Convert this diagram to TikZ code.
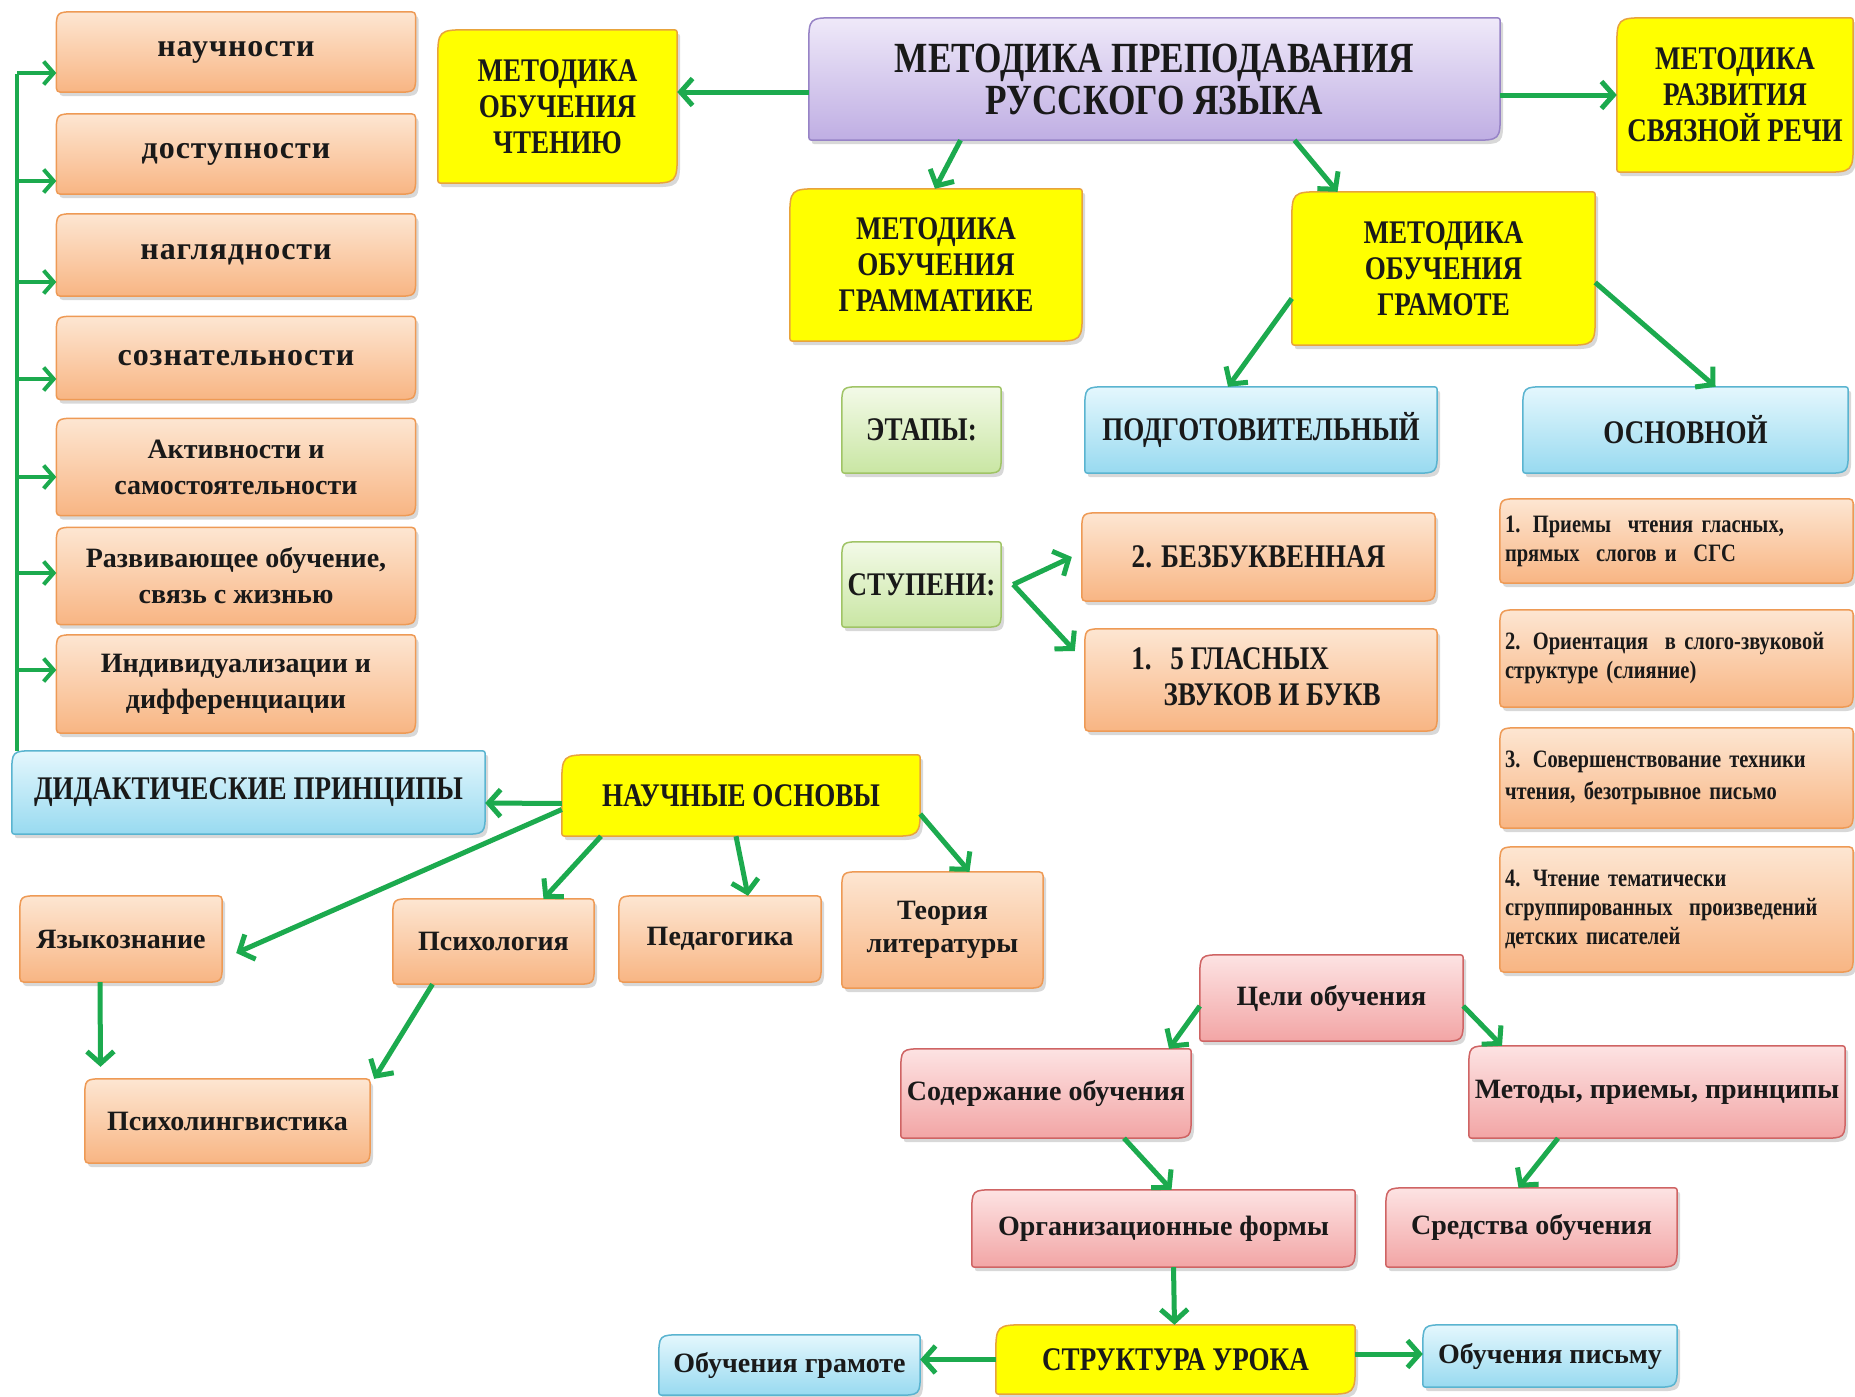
\documentclass[tikz,border=0pt]{standalone}
\usepackage{fontspec}
\setmainfont{Liberation Serif}
\newfontfamily\capf{Liberation Serif}[FakeStretch=0.82]
\newfontfamily\spf{Liberation Serif}[LetterSpace=3]
\usetikzlibrary{arrows.meta,shadows}
\pgfdeclarelayer{bg}
\pgfdeclarelayer{background}
\pgfsetlayers{bg,background,main}
\definecolor{or1}{HTML}{FDE6D2}
\definecolor{or2}{HTML}{F8B583}
\definecolor{orbd}{HTML}{EE9A55}
\definecolor{ye}{HTML}{FFFF00}
\definecolor{yebd}{HTML}{E8A33C}
\definecolor{pu1}{HTML}{EFE9F9}
\definecolor{pu2}{HTML}{BFAEE3}
\definecolor{pubd}{HTML}{9783C6}
\definecolor{bl1}{HTML}{E4F7FD}
\definecolor{bl2}{HTML}{98DAF0}
\definecolor{blbd}{HTML}{5AB4D0}
\definecolor{gr1}{HTML}{F3FAE8}
\definecolor{gr2}{HTML}{C9E6A3}
\definecolor{grbd}{HTML}{A0C466}
\definecolor{pk1}{HTML}{FDE3E3}
\definecolor{pk2}{HTML}{F2A5A5}
\definecolor{pkbd}{HTML}{CF6464}
\definecolor{ag}{HTML}{1CAA4E}
% #1 node, #2 style, #3 big radius (top left, bottom right), #4 small radius
\newcommand\shp[4]{%
  \path[#2,line width=1.5pt,drop shadow={opacity=0.3,shadow xshift=3pt,shadow yshift=-4pt}]
  ([yshift=#4]#1.south west) -- ([yshift=-#3]#1.north west) .. controls (#1.north west) .. ([xshift=#3]#1.north west)
  -- ([xshift=-#4]#1.north east) .. controls (#1.north east) .. ([yshift=-#4]#1.north east)
  -- ([yshift=#3]#1.south east) .. controls (#1.south east) .. ([xshift=-#3]#1.south east)
  -- ([xshift=#4]#1.south west) .. controls (#1.south west) .. cycle;}
\tikzset{
  forange/.style={top color=or1,bottom color=or2,draw=orbd},
  fyellow/.style={fill=ye,draw=yebd},
  fpurple/.style={top color=pu1,bottom color=pu2,draw=pubd},
  fblue/.style={top color=bl1,bottom color=bl2,draw=blbd},
  fgreen/.style={top color=gr1,bottom color=gr2,draw=grbd},
  fpink/.style={top color=pk1,bottom color=pk2,draw=pkbd},
  bx/.style={inner sep=3pt,align=center,text=black!90},
  cp/.style={font=\capf\bfseries\fontsize{33}{36}\selectfont},
  lw/.style={font=\bfseries\fontsize{28}{36}\selectfont},
  lsp/.style={font=\spf\bfseries\fontsize{32}{36}\selectfont},
  sm/.style={font=\capf\bfseries\fontsize{25}{29}\selectfont,align=left,inner xsep=5pt},
  arr/.style={draw=ag,line width=5pt,-{Straight Barb[length=12pt,width=27pt]}},
  arrl/.style={draw=ag,line width=4pt,-{Straight Barb[length=10pt,width=23pt]}},
}
\begin{document}
\begin{tikzpicture}[x=1pt,y=-1pt]
\useasboundingbox (0,0) rectangle (1855,1397);
\begin{pgfonlayer}{bg}
\fill[white] (0,0) rectangle (1855,1397);
\end{pgfonlayer}
% left column
\node[bx,lsp,minimum width=359pt,minimum height=80pt] (nauch) at (236,52) {научности};
\node[bx,lsp,minimum width=359pt,minimum height=80pt] (dost) at (236,154) {доступности};
\node[bx,lsp,minimum width=359pt,minimum height=82pt] (nagl) at (236,255) {наглядности};
\node[bx,lsp,minimum width=359pt,minimum height=83pt] (sozn) at (236,358) {сознательности};
\node[bx,lw,minimum width=359pt,minimum height=97pt] (aktiv) at (236,467) {Активности и\\самостоятельности};
\node[bx,lw,minimum width=359pt,minimum height=97pt] (razv) at (236,576) {Развивающее обучение,\\связь с жизнью};
\node[bx,lw,minimum width=359pt,minimum height=98pt] (indiv) at (236,684) {Индивидуализации и\\дифференциации};
% top
\node[bx,cp,minimum width=239pt,minimum height=153pt] (chten) at (557.5,106.5) {МЕТОДИКА\\ОБУЧЕНИЯ\\ЧТЕНИЮ};
\node[bx,font=\capf\bfseries\fontsize{43}{42}\selectfont,minimum width=691pt,minimum height=122pt] (main) at (1154.5,79) {МЕТОДИКА ПРЕПОДАВАНИЯ\\РУССКОГО ЯЗЫКА};
\node[bx,cp,minimum width=236pt,minimum height=154pt] (svyaz) at (1735,95) {МЕТОДИКА\\РАЗВИТИЯ\\СВЯЗНОЙ РЕЧИ};
\node[bx,cp,minimum width=292pt,minimum height=152pt] (gramm) at (936,265) {МЕТОДИКА\\ОБУЧЕНИЯ\\ГРАММАТИКЕ};
\node[bx,cp,minimum width=303pt,minimum height=153pt] (gramota) at (1443.5,268.5) {МЕТОДИКА\\ОБУЧЕНИЯ\\ГРАМОТЕ};
% stages
\node[bx,cp,minimum width=159pt,minimum height=86pt] (etapy) at (921.5,430) {ЭТАПЫ:};
\node[bx,cp,minimum width=352pt,minimum height=86pt] (podg) at (1261,430) {ПОДГОТОВИТЕЛЬНЫЙ};
\node[bx,cp,minimum width=325pt,minimum height=86pt] (osn) at (1685.5,430) {ОСНОВНОЙ};
\node[bx,cp,minimum width=159pt,minimum height=85pt] (stup) at (921.5,584.5) {СТУПЕНИ:};
\node[bx,cp,minimum width=353pt,minimum height=88pt] (bezb) at (1258.5,557) {2. БЕЗБУКВЕННАЯ};
\node[bx,cp,minimum width=352pt,minimum height=102pt] (glas) at (1261,680) {\begin{tabular}{@{}l@{\hspace{12pt}}l@{}}1.&\ 5 ГЛАСНЫХ\\&ЗВУКОВ И БУКВ\end{tabular}\hspace{10pt}};
% right column
\node[bx,sm,text width=343pt,minimum height=84pt] (r1) at (1676.5,541) {1. Приемы\ \ чтения гласных,\\прямых\ \ слогов и\ \ СГС};
\node[bx,sm,text width=343pt,minimum height=97pt] (r2) at (1676.5,658.5) {2. Ориентация\ \ в слого-звуковой\\структуре (слияние)};
\node[bx,sm,text width=343pt,minimum height=100pt] (r3) at (1676.5,778) {3. Совершенствование техники\\[3pt]чтения, безотрывное письмо};
\node[bx,sm,text width=343pt,minimum height=125pt] (r4) at (1676.5,909.5) {4. Чтение тематически\\сгруппированных\ \ произведений\\детских писателей};
% scientific foundations
\node[bx,cp,minimum width=473pt,minimum height=83pt] (did) at (248.5,792.5) {ДИДАКТИЧЕСКИЕ ПРИНЦИПЫ};
\node[bx,cp,minimum width=358pt,minimum height=81pt] (nos) at (741,795.5) {НАУЧНЫЕ ОСНОВЫ};
\node[bx,lw,minimum width=202pt,minimum height=86pt] (yaz) at (121,939) {Языкознание};
\node[bx,lw,minimum width=201pt,minimum height=85pt] (psih) at (493.5,941.5) {Психология};
\node[bx,lw,minimum width=202pt,minimum height=86pt] (ped) at (720,939) {Педагогика};
\node[bx,lw,font=\bfseries\fontsize{28}{33}\selectfont,minimum width=201pt,minimum height=116pt] (teor) at (942.5,930) {Теория\\литературы};
\node[bx,lw,minimum width=285pt,minimum height=84pt] (psling) at (227.5,1121) {Психолингвистика};
% lesson
\node[bx,lw,minimum width=263pt,minimum height=86pt] (celi) at (1331.5,998) {Цели обучения};
\node[bx,lw,minimum width=290pt,minimum height=89pt] (sod) at (1046,1093.5) {Содержание обучения};
\node[bx,lw,minimum width=376pt,minimum height=92pt] (met) at (1657,1092) {Методы, приемы, принципы};
\node[bx,lw,minimum width=383pt,minimum height=77pt] (org) at (1163.5,1228.5) {Организационные формы};
\node[bx,lw,minimum width=291pt,minimum height=79pt] (sred) at (1531.5,1227.5) {Средства обучения};
\node[bx,cp,minimum width=359pt,minimum height=69pt] (strukt) at (1175.5,1359.5) {СТРУКТУРА УРОКА};
\node[bx,lw,minimum width=261pt,minimum height=60pt] (obgr) at (789.5,1365) {Обучения грамоте};
\node[bx,lw,minimum width=254pt,minimum height=62pt] (obpis) at (1550,1356) {Обучения письму};
% shapes
\begin{pgfonlayer}{background}
\foreach \n in {nauch,dost,nagl,sozn,aktiv,razv,indiv,bezb,glas,r1,r2,r3,r4,yaz,psih,ped,teor,psling} {\shp{\n}{forange}{20pt}{9pt}}
\foreach \n in {chten,svyaz,gramm,gramota,nos,strukt} {\shp{\n}{fyellow}{32pt}{6pt}}
\shp{main}{fpurple}{28pt}{6pt}
\foreach \n in {podg,osn,did,obgr,obpis} {\shp{\n}{fblue}{24pt}{6pt}}
\foreach \n in {etapy,stup} {\shp{\n}{fgreen}{20pt}{6pt}}
\foreach \n in {celi,sod,met,org,sred} {\shp{\n}{fpink}{24pt}{6pt}}
\end{pgfonlayer}
% left bracket
\coordinate (ltop) at (17,74);
\coordinate (a1) at ([yshift=-21pt]nauch.west);
\coordinate (a2) at ([yshift=-27pt]dost.west);
\coordinate (a3) at ([yshift=-27pt]nagl.west);
\coordinate (a4) at ([yshift=-21pt]sozn.west);
\coordinate (a5) at ([yshift=-10pt]aktiv.west);
\coordinate (a6) at ([yshift=3pt]razv.west);
\coordinate (a7) at ([yshift=14pt]indiv.west);
\draw[ag,line width=4pt] (ltop) -- (ltop |- did.north);
\foreach \a in {a1,a2,a3,a4,a5,a6,a7} {\draw[arrl] (ltop |- \a) -- (\a);}
% connectors
\draw[arr] ([yshift=-13pt]main.west) -- ([yshift=14.5pt]chten.east);
\draw[arr] ([yshift=-16pt]main.east) -- (svyaz.west);
\draw[arr] ([xshift=-194pt]main.south) -- ([xshift=-1pt]gramm.north);
\draw[arr] ([xshift=140pt]main.south) -- ([xshift=-106pt]gramota.north);
\draw[arr] ([yshift=-30pt]gramota.west) -- ([xshift=-33pt]podg.north);
\draw[arr] ([yshift=-14pt]gramota.east) -- ([xshift=30pt]osn.north);
\draw[arr] ([xshift=12pt]stup.east) -- ([xshift=-10pt]bezb.west);
\draw[arr] ([xshift=12pt]stup.east) -- ([xshift=-10pt,yshift=29pt]glas.west);
\draw[arr] ([yshift=-8pt]nos.west) -- ([yshift=-10.5pt]did.east);
\draw[arr] ([yshift=-14pt]nos.west) -- ([xshift=14pt,yshift=-14pt]yaz.east);
\draw[arr] ([xshift=-140pt]nos.south) -- ([xshift=50pt]psih.north);
\draw[arr] ([xshift=-5pt]nos.south) -- ([xshift=28pt]ped.north);
\draw[arr] ([yshift=-18.5pt]nos.east) -- ([xshift=27pt]teor.north);
\draw[arr] ([xshift=-21pt]yaz.south) -- ([xshift=-127pt,yshift=12pt]psling.north);
\draw[arr] ([xshift=-61pt]psih.south) -- ([xshift=4pt]psling.north east);
\draw[arr] ([yshift=-8pt]celi.west) -- ([xshift=123pt]sod.north);
\draw[arr] ([yshift=-8pt]celi.east) -- ([xshift=-155pt]met.north);
\draw[arr] ([xshift=78pt]sod.south) -- ([xshift=8pt]org.north);
\draw[arr] ([xshift=-99pt]met.south) -- ([xshift=-13pt]sred.north);
\draw[arr] ([xshift=10pt]org.south) -- ([xshift=-1pt]strukt.north);
\draw[arr] (strukt.west) -- ([yshift=5.5pt]obgr.east);
\draw[arr] ([yshift=5.5pt]strukt.east) -- ([yshift=2pt]obpis.west);
\end{tikzpicture}
\end{document}
